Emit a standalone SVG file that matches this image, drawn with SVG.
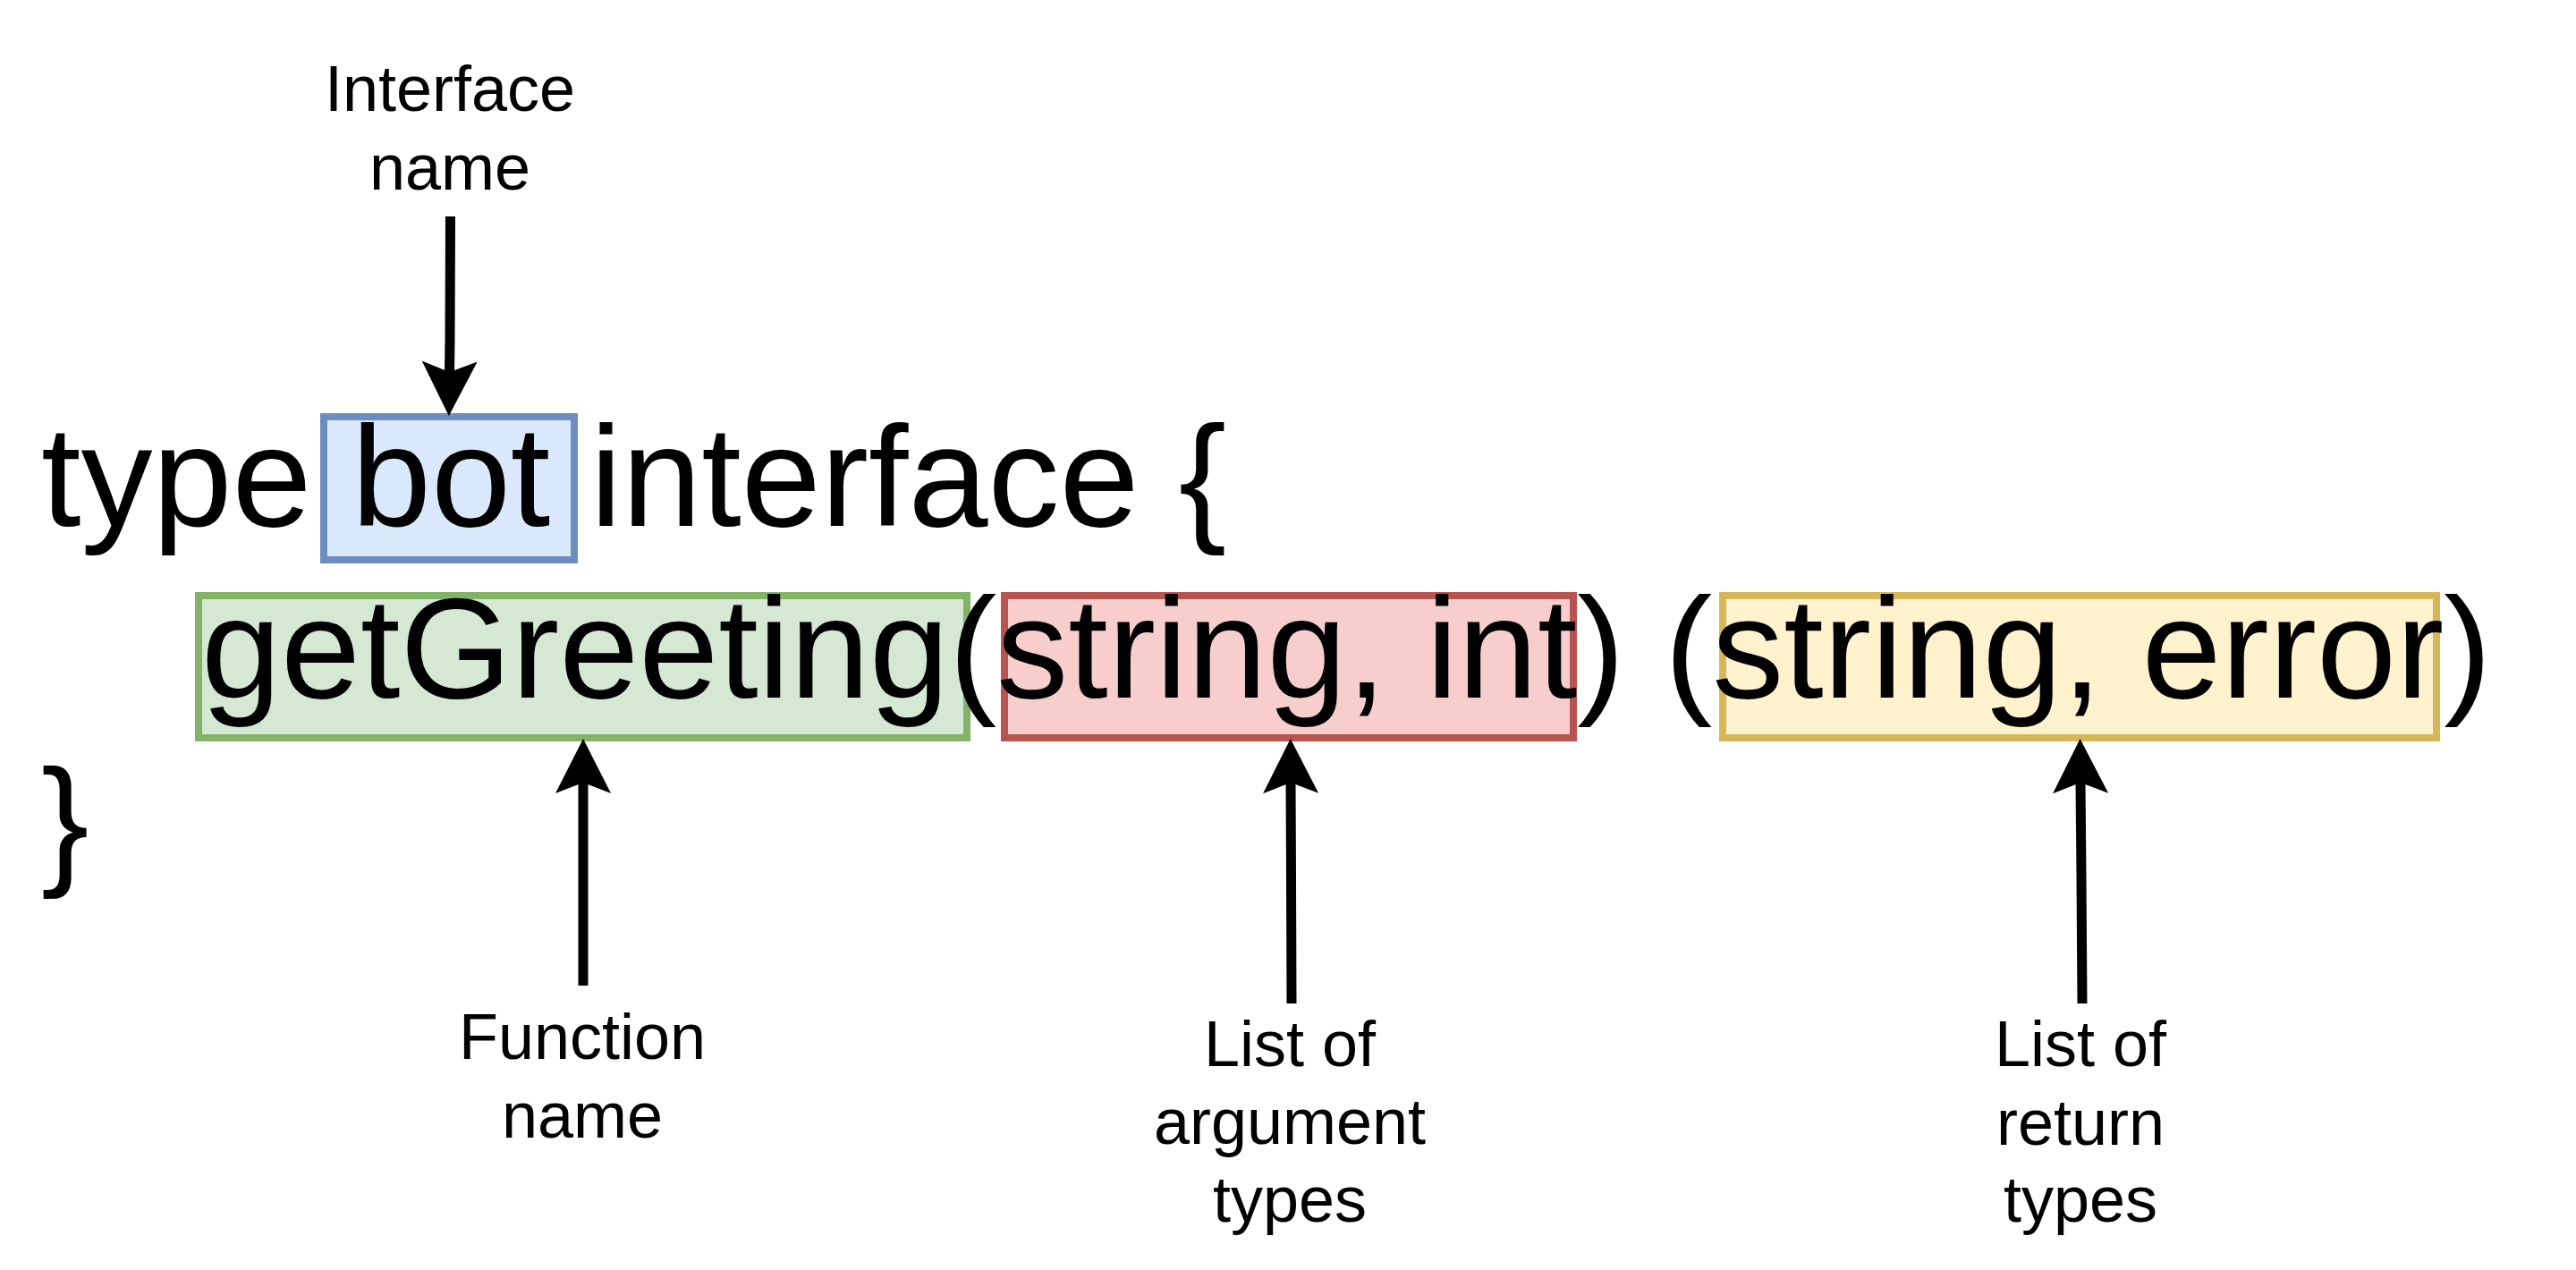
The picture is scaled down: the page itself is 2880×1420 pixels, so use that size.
<svg xmlns="http://www.w3.org/2000/svg" width="2880" height="1420" viewBox="0 0 2880 1420">
<style>
  .code { font-family: "Liberation Sans", Arial, Helvetica, sans-serif; font-size: 160px; fill: #000000; }
  .lbl { font-family: "Liberation Sans", Arial, Helvetica, sans-serif; font-size: 72px; fill: #000000; text-anchor: middle; }
  .box { stroke-width: 8; }
  .blue { fill: #dae8fc; stroke: #6c8ebf; }
  .green { fill: #d5e8d4; stroke: #82b366; }
  .red { fill: #f8cecc; stroke: #b85450; }
  .yellow { fill: #fff2cc; stroke: #d6b656; }
  .edge { fill: none; stroke: #000000; stroke-width: 11; marker-end: url(#arrow); }
</style>
<defs>
  <marker id="arrow" markerUnits="userSpaceOnUse" viewBox="-14 -33 66 66" refX="0" refY="0" markerWidth="66" markerHeight="66" orient="auto">
    <path d="M49,0 L-12,-31 L0,0 L-12,31 Z" fill="#000000"/>
  </marker>
</defs>
<rect width="2880" height="1420" fill="#ffffff"/>

<g id="node-bot">
  <rect class="box blue" x="362" y="466" width="280" height="160"/>
</g>
<g id="node-function-name">
  <rect class="box green" x="222" y="666" width="859" height="159"/>
</g>
<g id="node-argument-types">
  <rect class="box red" x="1123" y="666" width="636" height="159"/>
</g>
<g id="node-return-types">
  <rect class="box yellow" x="1926" y="666" width="798" height="159"/>
</g>

<g id="code">
  <text class="code" x="46" y="588">type</text>
  <text class="code" x="392.9" y="588">bot</text>
  <text class="code" x="659.7" y="588">interface {</text>
  <text class="code" x="225" y="780">getGreeting</text>
  <text class="code" x="1061" y="780">(</text>
  <text class="code" x="1114.3" y="780">string, int</text>
  <text class="code" x="1763.3" y="780" xml:space="preserve">) (</text>
  <text class="code" x="1914.3" y="780">string, error</text>
  <text class="code" x="2732.2" y="780">)</text>
  <text class="code" x="46" y="972">}</text>
</g>

<g id="label-interface-name">
  <text class="lbl" x="503" y="123.5">Interface</text>
  <text class="lbl" x="503" y="211.5">name</text>
</g>
<g id="label-function-name">
  <text class="lbl" x="651" y="1184">Function</text>
  <text class="lbl" x="651" y="1272">name</text>
</g>
<g id="label-argument-types">
  <text class="lbl" x="1442" y="1192">List of</text>
  <text class="lbl" x="1442" y="1279">argument</text>
  <text class="lbl" x="1442" y="1366">types</text>
</g>
<g id="label-return-types">
  <text class="lbl" x="2326" y="1192">List of</text>
  <text class="lbl" x="2326" y="1280">return</text>
  <text class="lbl" x="2326" y="1366">types</text>
</g>

<g id="connectors">
  <path class="edge" d="M503.5,242 L503,380 L502.5,416"/>
  <path class="edge" d="M652,1102 L652,875"/>
  <path class="edge" d="M1444,1122 L1443.5,980 L1443,875"/>
  <path class="edge" d="M2328,1122 L2327,980 L2326,875"/>
</g>
</svg>
